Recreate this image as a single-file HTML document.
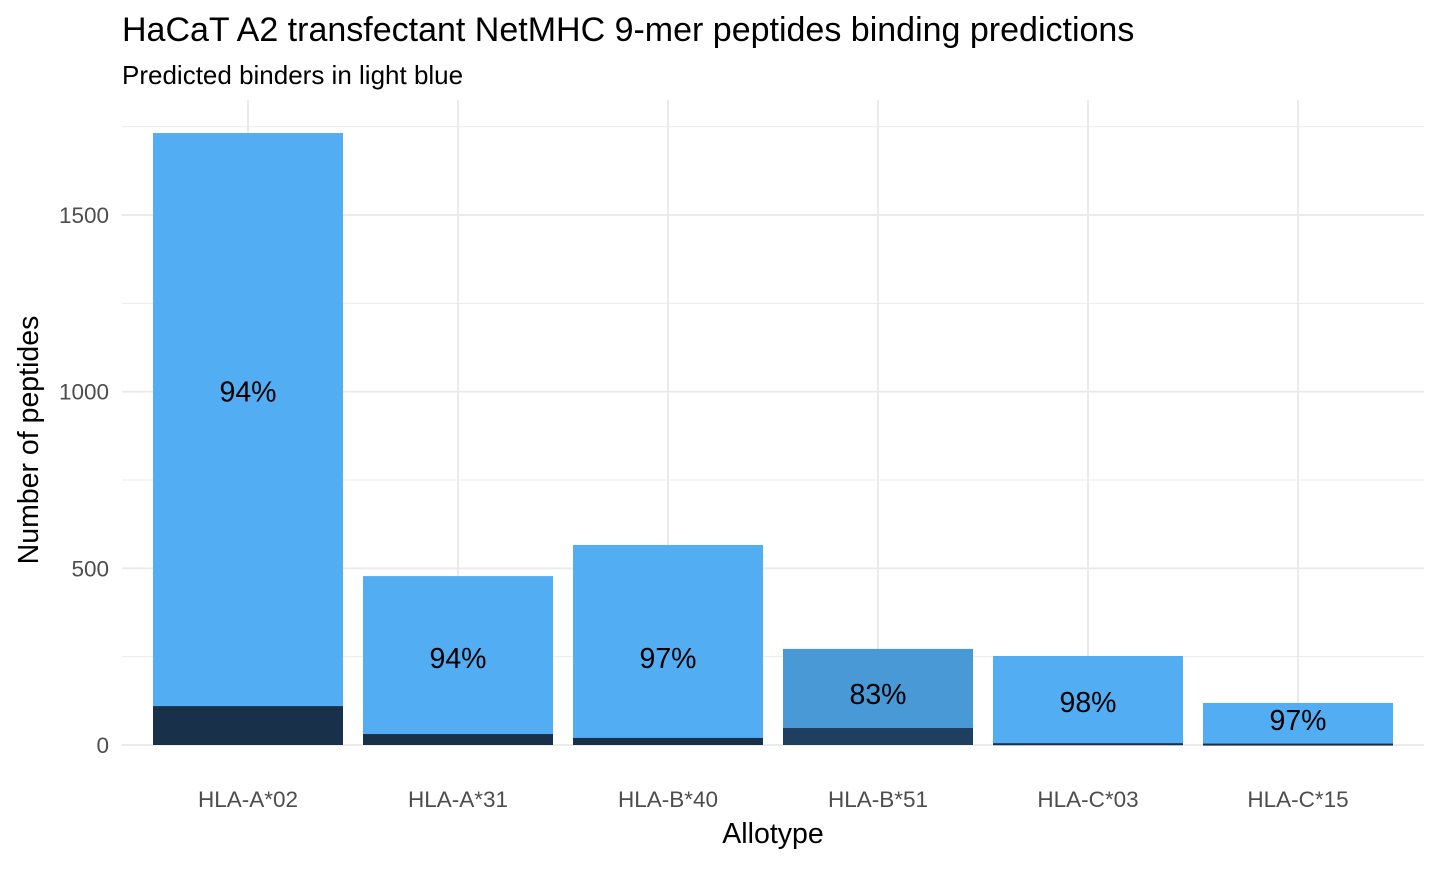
<!DOCTYPE html>
<html><head><meta charset="utf-8"><style>
body{margin:0;background:#fff;font-family:"Liberation Sans",Arial,sans-serif;}
svg text{font-family:"Liberation Sans",Arial,sans-serif;}
</style></head><body>
<svg id="chart" width="1440" height="864">
<text x="122" y="41" font-size="34" fill="#000">HaCaT A2 transfectant NetMHC 9-mer peptides binding predictions</text>
<text x="122" y="84" font-size="26" fill="#000">Predicted binders in light blue</text>
<g id="grid"></g><g id="bars"></g><g id="labels"></g><g id="axes"></g>
<text x="773" y="843" font-size="28.5" text-anchor="middle">Allotype</text>
<text transform="translate(38,440) rotate(-90)" font-size="28.5" text-anchor="middle">Number of peptides</text>
</svg>
<script>
const categories=["HLA-A*02","HLA-A*31","HLA-B*40","HLA-B*51","HLA-C*03","HLA-C*15"];
const totals=[1732,478,566,272,252,119];
const nonBinders=[110,31,20,48,5,4];
const percentLabels=["94%","94%","97%","83%","98%","97%"];
const labelY=[1000,246,246,144,122,71];
const yTicks=[0,500,1000,1500];
const NS="http://www.w3.org/2000/svg";
const x0=122,x1=1424,step=210,bw=190;
function xs(i){return 248+i*step;}
function ys(v){return 745-v*0.35333;}
function mk(p,tag,a){const e=document.createElementNS(NS,tag);for(const k in a)e.setAttribute(k,a[k]);p.appendChild(e);return e;}
const grid=document.getElementById('grid'),bars=document.getElementById('bars'),labels=document.getElementById('labels'),axes=document.getElementById('axes');
for(let v=250;v<=1750;v+=500){const l=mk(grid,'line',{x1:x0,x2:x1,y1:ys(v),y2:ys(v),stroke:'#ebebeb','stroke-width':1});

}
yTicks.forEach(v=>{const l=mk(grid,'line',{x1:x0,x2:x1,y1:ys(v),y2:ys(v),stroke:'#ebebeb','stroke-width':2});


const t=mk(axes,'text',{x:109,y:ys(v)+8,'font-size':22.5,fill:'#4d4d4d','text-anchor':'end'});t.textContent=v;

});
categories.forEach((c,i)=>{const l=mk(grid,'line',{x1:xs(i),x2:xs(i),y1:100,y2:745,stroke:'#ebebeb','stroke-width':2});


const light=i===3?'#4899d6':'#52adf2',dark=i===3?'#1e3f5f':'#183049';
const b=mk(bars,'rect',{x:xs(i)-bw/2,y:ys(totals[i]),width:bw,height:ys(0)-ys(totals[i]),fill:light});


const d=mk(bars,'rect',{x:xs(i)-bw/2,y:ys(nonBinders[i]),width:bw,height:Math.max(2,ys(0)-ys(nonBinders[i])),fill:dark});


const t=mk(labels,'text',{x:xs(i),y:ys(labelY[i])+10,'font-size':28.5,'text-anchor':'middle',fill:'#000'});t.textContent=percentLabels[i];


const xt=mk(axes,'text',{x:xs(i),y:807,'font-size':22.5,fill:'#4d4d4d','text-anchor':'middle'});xt.textContent=c;

});
</script>
</body></html>
